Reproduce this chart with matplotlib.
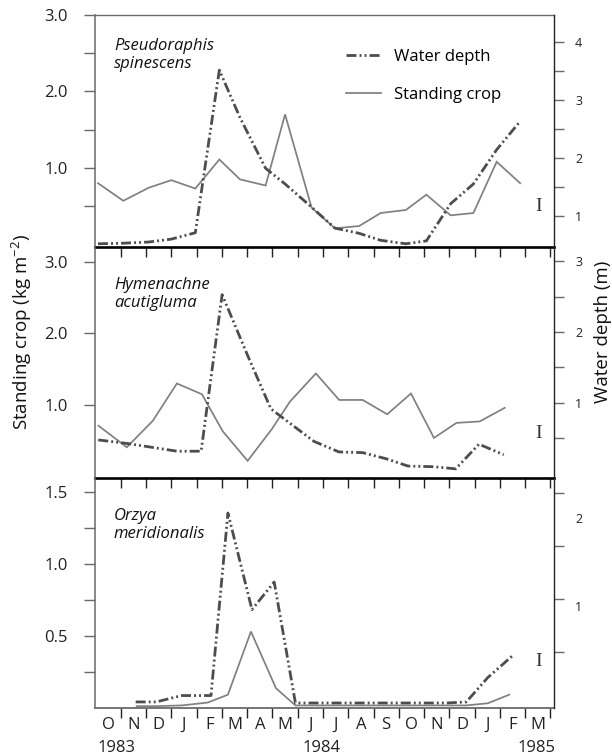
import matplotlib
matplotlib.use('Agg')
import matplotlib.pyplot as plt
from matplotlib.lines import Line2D
import matplotlib.transforms as mtransforms

plt.rcParams['font.family'] = ['Open Sans', 'DejaVu Sans']

# ---------------- data (x in months since 1 Oct 1983) ----------------
months = ['O', 'N', 'D', 'J', 'F', 'M', 'A', 'M', 'J', 'J', 'A', 'S',
          'O', 'N', 'D', 'J', 'F', 'M']
years = ['1983', '1984', '1985']
year_x = [0.82, 8.96, 17.44]

species = ['Pseudoraphis\nspinescens', 'Hymenachne\nacutigluma', 'Orzya\nmeridionalis']

# Pseudoraphis spinescens
p1_x = [0.1, 1.1, 2.1, 3.0, 3.95, 4.9, 5.72, 6.73, 7.5, 8.55, 9.47, 10.43,
        11.28, 12.28, 13.09, 14.05, 14.95, 15.87, 16.8]
p1_crop = [0.80, 0.57, 0.74, 0.84, 0.73, 1.11, 0.85, 0.77, 1.70, 0.48, 0.21,
           0.24, 0.41, 0.45, 0.65, 0.38, 0.41, 1.08, 0.80]
p1_depth = [0.53, 0.54, 0.56, 0.61, 0.72, 3.52, 2.70, 1.83, 1.56, 1.16, 0.80,
            0.71, 0.59, 0.53, 0.58, 1.22, 1.56, 2.15, 2.64]

# Hymenachne acutigluma
p2_crop_x = [0.12, 1.24, 2.27, 3.22, 4.21, 5.04, 6.02, 6.97, 7.70, 8.72, 9.64,
             10.57, 11.54, 12.48, 13.39, 14.28, 15.20, 16.19]
p2_crop = [0.71, 0.41, 0.78, 1.30, 1.15, 0.63, 0.22, 0.66, 1.05, 1.44, 1.07,
           1.07, 0.87, 1.16, 0.54, 0.75, 0.77, 0.96]
p2_depth_x = [0.11, 1.25, 3.23, 4.18, 5.01, 6.04, 6.94, 8.64, 9.63, 10.57,
              11.53, 12.36, 13.39, 14.25, 15.17, 16.15]
p2_depth = [0.47, 0.42, 0.31, 0.31, 2.53, 1.65, 0.91, 0.45, 0.30, 0.29, 0.20,
            0.10, 0.09, 0.06, 0.41, 0.26]

# Orzya meridionalis
p3_crop_x = [1.63, 2.40, 3.41, 4.44, 5.24, 6.15, 7.14, 7.91, 8.9, 9.9, 10.9,
             11.9, 12.9, 13.9, 14.67, 15.52, 16.37]
p3_crop = [0.01, 0.01, 0.015, 0.035, 0.09, 0.53, 0.135, 0.015, 0.015, 0.015,
           0.015, 0.015, 0.015, 0.015, 0.015, 0.03, 0.09]
p3_depth_x = [1.59, 2.40, 3.41, 4.57, 5.24, 6.19, 7.07, 7.91, 8.9, 9.9, 10.9,
              11.9, 12.9, 13.9, 14.67, 15.52, 16.52]
p3_depth = [0.03, 0.03, 0.09, 0.09, 1.81, 0.90, 1.16, 0.02, 0.02, 0.02, 0.02,
            0.02, 0.02, 0.02, 0.03, 0.26, 0.47]

# ---------------- styling ----------------
CROP_C = '#808080'
DEPTH_C = '#4d4d4d'
DEPTH_LS = (0, (3.6, 1.1, 0.7, 1.1, 0.7, 1.1))
GRAY_SP = '#6a6a6a'

fig = plt.figure(figsize=(6.12, 7.56), dpi=100)
L, W = 0.156, 0.7497
rects = [(L, 0.6737, W, 0.3065), (L, 0.3677, W, 0.3060), (L, 0.0631, W, 0.3046)]

panels = [
    dict(cx=p1_x, cy=p1_crop, dx=p1_x, dy=p1_depth,
         lylim=(-0.03, 3.0), lmaj=[1.0, 2.0, 3.0], lmin=[0.5, 1.5, 2.5],
         ryl=(0.48, 4.47), rmaj=[1, 2, 3, 4], rmin=[1.5, 2.5, 3.5],
         txt_y=0.827, bar_y=0.173),
    dict(cx=p2_crop_x, cy=p2_crop, dx=p2_depth_x, dy=p2_depth,
         lylim=(-0.02, 3.21), lmaj=[1.0, 2.0, 3.0], lmin=[],
         ryl=(-0.07, 3.21), rmaj=[1, 2, 3], rmin=[0.5, 1.5, 2.5],
         txt_y=0.795, bar_y=0.193),
    dict(cx=p3_crop_x, cy=p3_crop, dx=p3_depth_x, dy=p3_depth,
         lylim=(-0.005, 1.60), lmaj=[0.5, 1.0, 1.5], lmin=[0.25, 0.75, 1.25],
         ryl=(-0.03, 2.14), rmaj=None, rmin=None,
         txt_y=0.796, bar_y=0.202),
]

axes = []
for i, (rect, p) in enumerate(zip(rects, panels)):
    ax = fig.add_axes(rect)
    ax.patch.set_visible(False)
    ax2 = ax.twinx()
    ax2.patch.set_visible(False)

    lc, = ax.plot(p['cx'], p['cy'], color=CROP_C, lw=1.25, zorder=3,
                  solid_joinstyle='miter')
    ld, = ax2.plot(p['dx'], p['dy'], color=DEPTH_C, lw=2.0, ls=DEPTH_LS,
                   zorder=4)

    ax.set_xlim(0, 18.15)
    ax.set_ylim(*p['lylim'])
    ax2.set_ylim(*p['ryl'])

    # x ticks: boundaries (major) and month centres (minor, labels)
    ax.set_xticks(list(range(1, 19)))
    ax.set_xticks([k + 0.5 for k in range(18)], minor=True)
    ax.set_xticklabels([''] * 18)
    if i == 2:
        ax.set_xticklabels(months, minor=True)
    else:
        ax.set_xticklabels([''] * 18, minor=True)
    ax.tick_params(axis='x', which='major', direction='out', length=7.5,
                   width=1.0, color='#222222')
    ax.tick_params(axis='x', which='minor', length=0, pad=6, labelsize=12,
                   labelcolor='#222222')

    # left y ticks
    ax.set_yticks(p['lmaj'])
    ax.set_yticklabels(['%.1f' % v for v in p['lmaj']])
    ax.set_yticks(p['lmin'], minor=True)
    ax.tick_params(axis='y', which='both', direction='out', length=8,
                   width=1.0, color=GRAY_SP, pad=12, labelsize=12,
                   labelcolor='#222222')

    # right y ticks
    if p['rmaj'] is not None:
        ax2.set_yticks(p['rmaj'])
        ax2.set_yticklabels([str(v) for v in p['rmaj']])
        ax2.set_yticks(p['rmin'], minor=True)
        ax2.tick_params(axis='y', which='both', direction='out', length=7,
                        width=1.0, color=GRAY_SP, pad=8, labelsize=9,
                        labelcolor='#222222')
    else:
        ax2.set_yticks([0.5, 1.0, 1.5, 2.0])
        ax2.set_yticklabels([''] * 4)
        ax2.set_yticks([0.93, 1.76], minor=True)
        ax2.set_yticklabels(['1', '2'], minor=True)
        ax2.tick_params(axis='y', which='major', direction='out', length=7,
                        width=1.0, color=GRAY_SP)
        ax2.tick_params(axis='y', which='minor', length=0, pad=15,
                        labelsize=9, labelcolor='#222222')

    # spines
    for s in ['top', 'right', 'bottom', 'left']:
        ax2.spines[s].set_visible(False)
    ax2.spines['right'].set_visible(True)
    ax2.spines['right'].set_color('#222222')
    ax2.spines['right'].set_linewidth(1.0)
    ax.spines['right'].set_visible(False)
    ax.spines['left'].set_color(GRAY_SP)
    ax.spines['left'].set_linewidth(1.1)
    if i == 0:
        ax.spines['top'].set_color(GRAY_SP)
        ax.spines['top'].set_linewidth(1.0)
    else:
        ax.spines['top'].set_visible(False)
    if i < 2:
        ax.spines['bottom'].set_color('black')
        ax.spines['bottom'].set_linewidth(1.9)
    else:
        ax.spines['bottom'].set_color(GRAY_SP)
        ax.spines['bottom'].set_linewidth(1.3)

    # species name
    ax.text(0.040, p['txt_y'], species[i], transform=ax.transAxes,
            fontsize=12, style='italic', ha='left', va='center',
            linespacing=1.15, color='#111111')
    # scale bar mark
    ax.text(0.9655, p['bar_y'], 'I', transform=ax.transAxes,
            family=['Liberation Serif', 'DejaVu Serif'], fontsize=14,
            ha='center', va='center', color='#333333')

    if i == 0:
        h1 = Line2D([], [], color=DEPTH_C, lw=2.0, ls=DEPTH_LS)
        h2 = Line2D([], [], color=CROP_C, lw=1.25)
        ax2.legend([h1, h2], ['Water depth', 'Standing crop'], loc='upper left',
                   bbox_to_anchor=(0.545, 0.853), frameon=False, fontsize=12,
                   handlelength=2.1, handletextpad=0.8, labelspacing=1.3,
                   borderpad=0, borderaxespad=0)
    axes.append(ax)

# year labels under bottom panel
axb = axes[2]
trans = mtransforms.blended_transform_factory(axb.transData, axb.transAxes)
for yx, yl in zip(year_x, years):
    axb.text(yx, -0.172, yl, transform=trans, ha='center', va='center',
             fontsize=12, color='#222222')

fig.text(0.036, 0.561, r'Standing crop (kg m$^{\mathregular{-2}}$)', rotation=90,
         ha='center', va='center', fontsize=13.5, color='#111111')
fig.text(0.985, 0.561, 'Water depth (m)', rotation=90,
         ha='center', va='center', fontsize=13.5, color='#111111')

fig.savefig('out.png', dpi=100)
